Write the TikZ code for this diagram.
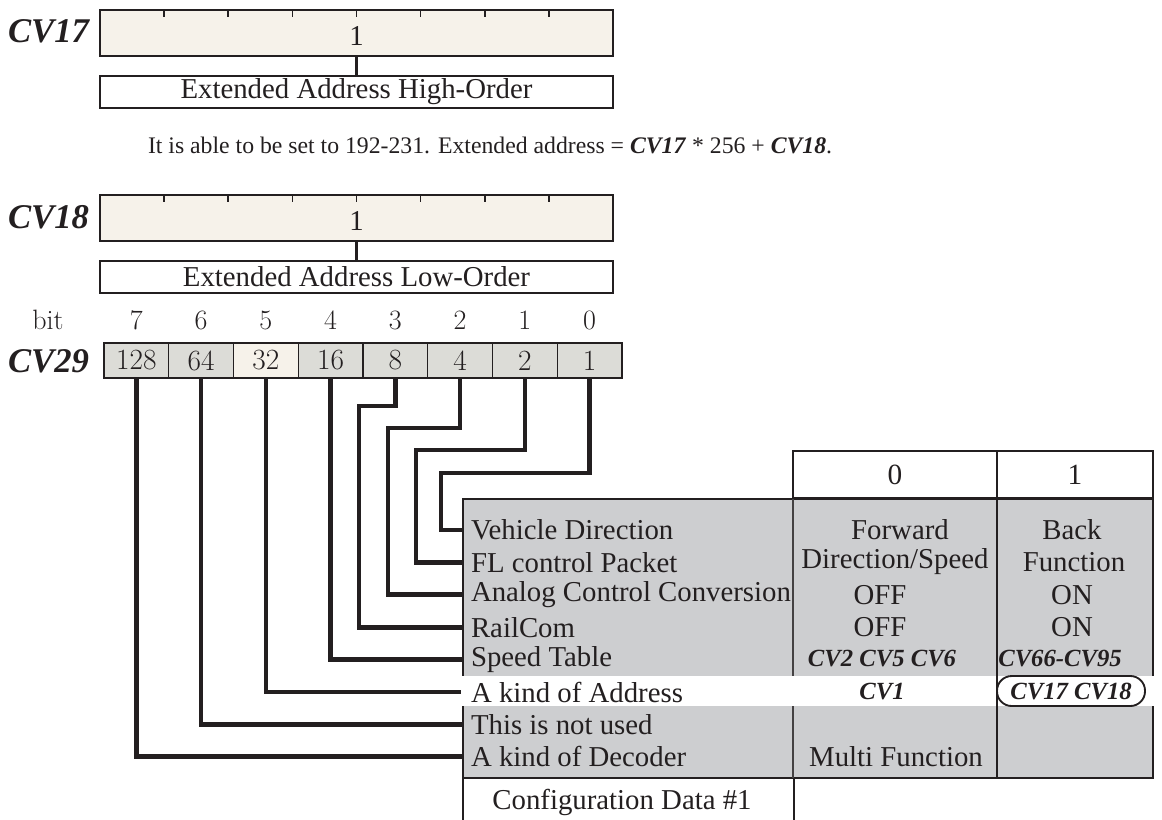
\documentclass[tikz,border=0pt]{standalone}
\usepackage{fontspec}
\newfontfamily\tm{Liberation Serif}
\usetikzlibrary{calc}
\definecolor{cream}{HTML}{F6F2EA}
\definecolor{cellgray}{HTML}{DCDCD7}
\definecolor{tgray}{HTML}{CDCED0}
\definecolor{ink}{HTML}{231F20}
\newcommand\myfs[1]{\fontsize{#1}{#1}\selectfont}
\begin{document}
\begin{tikzpicture}[x=0.75pt,y=-0.75pt,
  every node/.style={inner sep=0pt, outer sep=0pt, text=ink},
  box/.style={draw=ink, line width=2pt, rectangle},
  conn/.style={draw=ink, line width=3.5pt, line join=miter},
  lbl/.style={font=\tm\bfseries\itshape\myfs{26}},
  txt/.style={font=\tm\myfs{21.6}},
  num/.style={font=\myfs{21}},
  cvi/.style={font=\tm\bfseries\itshape\myfs{18.5}},
]
\useasboundingbox (0,0) rectangle (1162,819);

% ---------- CV17 ----------
\node[lbl, anchor=east] (L17) at (89,31) {CV17};
\node[box, fill=cream, minimum width=384.75pt, minimum height=34.5pt] (B17) at (356.5,33) {};
\foreach \k in {1,...,7}
  \draw[ink, line width=1.2pt] ($(B17.north west)!\k/8!(B17.north east)$) -- ++(0,7);
\node[txt] (V17) at (356.5,36) {1};
\node[box, txt, minimum width=384.75pt, minimum height=24pt] (D17) at (356.5,92) {Extended Address High-Order};
\draw[ink, line width=1.6pt] (B17.south) -- (D17.north);

% ---------- sentence ----------
\node[font=\tm\myfs{17.8}, anchor=west] (S) at (148,145)
  {It is able to be set to 192-231. Extended address = \textbf{\textit{CV17}} * 256 + \textbf{\textit{CV18}}.};

% ---------- CV18 ----------
\node[lbl, anchor=east] (L18) at (89,217) {CV18};
\node[box, fill=cream, minimum width=384.75pt, minimum height=34.5pt] (B18) at (356.5,218) {};
\foreach \k in {1,...,7}
  \draw[ink, line width=1.2pt] ($(B18.north west)!\k/8!(B18.north east)$) -- ++(0,7);
\node[txt] (V18) at (356.5,221) {1};
\node[box, txt, minimum width=384.75pt, minimum height=24pt] (D18) at (356.5,277) {Extended Address Low-Order};
\draw[ink, line width=1.6pt] (B18.south) -- (D18.north);

% ---------- CV29 ----------
\node[num] (bit) at (48,320) {bit};
\foreach \b in {0,...,7}
  \node[num] (n\b) at ({104+64.75*(7-\b+0.5)},320) {\b};
\foreach \b/\v in {7/128,6/64,5/32,4/16,3/8,2/4,1/2,0/1}
  \node[draw=ink, line width=1pt, fill=cellgray, minimum width=48.5625pt, minimum height=26.25pt, font=\myfs{22}]
    (c\b) at ({104+64.75*(7-\b+0.5)},360.5) {\v};
\node[draw=ink, line width=1pt, fill=cream, minimum width=48.5625pt, minimum height=26.25pt, font=\myfs{22}]
    (c5b) at (c5) {32};
\draw[ink, line width=2pt] (c7.north west) rectangle (c0.south east);
\node[lbl, anchor=east] (L29) at (89,361) {CV29};

% ---------- connectors ----------
\foreach \i in {0,...,7}
  \coordinate (ry\i) at (463,{530+32.4*\i});

\draw[conn] (c0.south) |- (441,473) |- (ry0);
\draw[conn] (c1.south) |- (416,450) |- (ry1);
\draw[conn] (c2.south) |- (388,428) |- (ry2);
\draw[conn] (c3.south) |- (359,406) |- (ry3);
\draw[conn] (c4.south) |- (ry4);
\draw[conn] (c5.south) |- (ry5);
\draw[conn] (c6.south) |- (ry6);
\draw[conn] (c7.south) |- (ry7);

% ---------- table ----------
\node[draw=ink, line width=2pt, fill=tgray, minimum width=517.5pt, minimum height=209.25pt] (T) at (808,638.5) {};
\node[box, fill=white, minimum width=153pt, minimum height=35.25pt, font=\tm\myfs{22}] (H0) at (895,474.5) {0};
\node[box, fill=white, minimum width=117pt, minimum height=35.25pt, font=\tm\myfs{22}] (H1) at (1075,474.5) {1};
\fill[white] (461,676) rectangle (1155,706);
\draw[ink!85, line width=1pt] (793,499) -- (793,676) (793,706) -- (793,778);
\draw[ink, line width=2pt] (997,499) -- (997,778);

\foreach \i/\t in {0/Vehicle Direction,1/FL control Packet,2/Analog Control Conversion,3/RailCom,4/Speed Table,5/A kind of Address,6/This is not used,7/A kind of Decoder}
  \node[txt, anchor=west] (row\i) at (471,{530+32.4*\i}) {\t};

\node[txt] (a0) at (900,530) {Forward};
\node[txt] (b0) at (895,562) {Direction/Speed};
\node[txt] (d0) at (880,595) {OFF};
\node[txt] (e0) at (880,627) {OFF};
\node[cvi] (f0) at (882,659) {CV2 CV5 CV6};
\node[cvi] (g0) at (882,692) {CV1};
\node[txt] (h0) at (896,757) {Multi Function};

\node[txt] (a1) at (1072,530) {Back};
\node[txt] (b1) at (1074,562) {Function};
\node[txt] (d1) at (1072,595) {ON};
\node[txt] (e1) at (1072,627) {ON};
\node[cvi] (f1) at (1060,659) {CV66-CV95};
\node[cvi, draw=ink, line width=1.4pt, rounded corners=11pt, minimum width=111pt, minimum height=22.5pt] (g1) at (1071,691) {CV17 CV18};

% ---------- bottom ----------
\node[txt] (cfg) at (622,802) {Configuration Data \#1};
\draw[ink, line width=1.6pt] (T.south west) -- ++(0,42);
\draw[ink, line width=1.6pt] (794,778) -- (794,820);
\end{tikzpicture}
\end{document}
